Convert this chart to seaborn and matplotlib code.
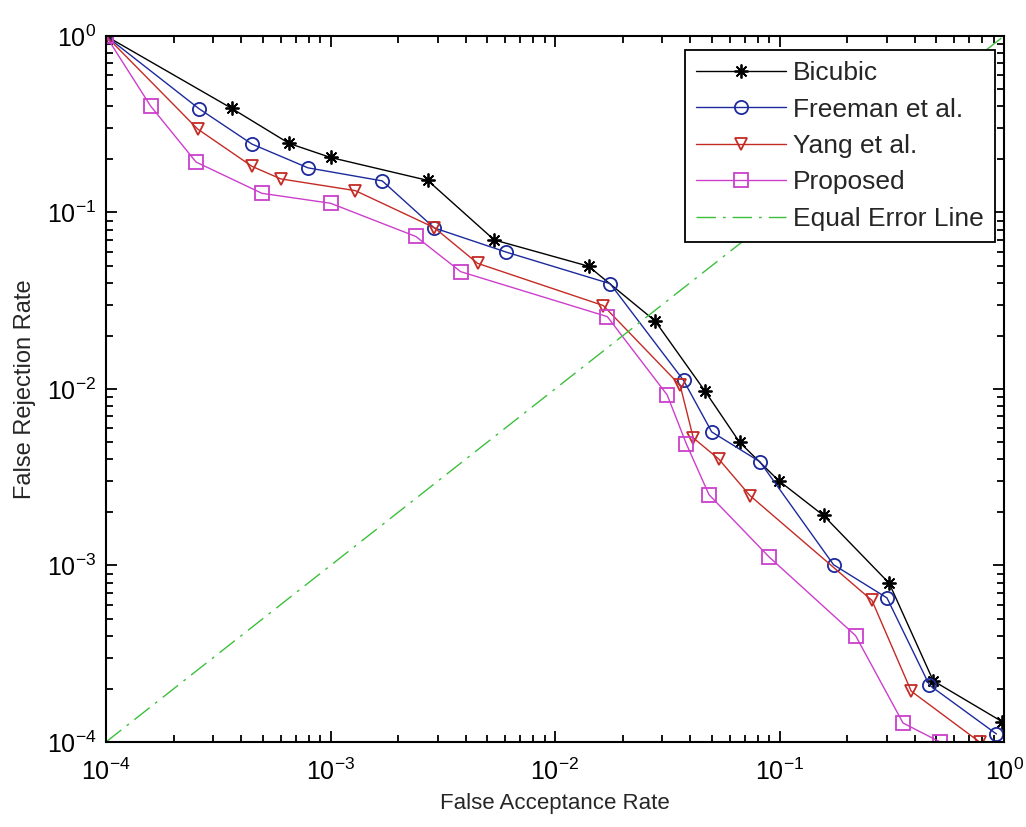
import matplotlib
matplotlib.use("Agg")
import matplotlib.pyplot as plt
import seaborn as sns
import numpy as np
import pandas as pd
from matplotlib.ticker import LogLocator, NullFormatter, LogFormatterSciNotation

# ---------------- data ----------------
labels = ["Bicubic", "Freeman et al.", "Yang et al.", "Proposed"]

far_bicubic = [1e-4, 3.63e-4, 6.55e-4, 1.0e-3, 2.71e-3, 5.36e-3, 1.41e-2, 2.79e-2,
               4.65e-2, 6.64e-2, 9.9e-2, 0.157, 0.308, 0.484, 0.984]
frr_bicubic = [1.0, 0.389, 0.246, 0.205, 0.152, 0.0699, 0.0496, 0.0243,
               0.00975, 0.00499, 0.00303, 0.00192, 7.93e-4, 2.22e-4, 1.30e-4]

far_freeman = [1e-4, 2.59e-4, 4.47e-4, 7.94e-4, 1.70e-3, 2.90e-3, 6.07e-3, 1.76e-2,
               3.74e-2, 4.99e-2, 8.18e-2, 0.174, 0.301, 0.465, 0.925]
frr_freeman = [1.0, 0.388, 0.244, 0.179, 0.151, 0.0817, 0.0596, 0.0395,
               0.01117, 0.00571, 0.00387, 0.00101, 6.55e-4, 2.10e-4, 1.11e-4]

far_yang = [1e-4, 2.56e-4, 4.47e-4, 6.0e-4, 1.29e-3, 2.90e-3, 4.52e-3, 1.64e-2,
            3.61e-2, 4.13e-2, 5.35e-2, 7.38e-2, 0.258, 0.386, 0.778]
frr_yang = [1.0, 0.297, 0.1825, 0.155, 0.133, 0.082, 0.0515, 0.0297,
            0.01047, 0.00528, 0.00402, 0.00249, 6.34e-4, 1.94e-4, 1.0e-4]

far_proposed = [1e-4, 1.58e-4, 2.52e-4, 4.95e-4, 1.0e-3, 2.40e-3, 3.80e-3, 1.71e-2,
                3.16e-2, 3.85e-2, 4.85e-2, 8.97e-2, 0.218, 0.355, 0.519]
frr_proposed = [1.0, 0.401, 0.193, 0.1284, 0.1128, 0.0731, 0.0462, 0.0257,
                0.00925, 0.00487, 0.00252, 0.00112, 4.01e-4, 1.28e-4, 1.0e-4]

eer_x = [1e-4, 1.0]
eer_y = [1e-4, 1.0]
eer_label = "Equal Error Line"

# ---------------- style ----------------
sns.set_style("ticks")
plt.rcParams["font.family"] = ["Liberation Sans", "DejaVu Sans"]
plt.rcParams["mathtext.default"] = "regular"
plt.rcParams["axes.unicode_minus"] = False

fig = plt.figure(figsize=(10.26, 8.27), dpi=100)
ax = fig.add_axes([0.1033, 0.1028, 0.8753, 0.8537])

asterisk = (8, 2, 0)
series = [
    (far_bicubic, frr_bicubic, labels[0], "#000000", asterisk, 10),
    (far_freeman, frr_freeman, labels[1], "#1c2a9c", "o", 9.5),
    (far_yang, frr_yang, labels[2], "#c42b25", "v", 8.5),
    (far_proposed, frr_proposed, labels[3], "#cc3fcc", "s", 10.5),
]

for fx, fy, lab, col, mk, ms in series:
    df = pd.DataFrame({"FAR": fx, "FRR": fy})
    sns.lineplot(data=df, x="FAR", y="FRR", ax=ax, sort=False, estimator=None,
                 color=col, linewidth=1.0, marker=mk, markersize=ms,
                 markerfacecolor="none", markeredgecolor=col,
                 markeredgewidth=1.3, label=lab)

df_eer = pd.DataFrame({"FAR": eer_x, "FRR": eer_y})
sns.lineplot(data=df_eer, x="FAR", y="FRR", ax=ax, sort=False, estimator=None,
             color="#3cc03c", linewidth=1.0, label=eer_label, dashes=False)
ax.lines[-1].set_dashes([14, 5, 2, 5])

ax.set_xscale("log")
ax.set_yscale("log")
ax.set_xlim(1e-4, 1)
ax.set_ylim(1e-4, 1)

for axis in (ax.xaxis, ax.yaxis):
    axis.set_major_locator(LogLocator(base=10, numticks=10))
    axis.set_minor_locator(LogLocator(base=10, subs=np.arange(2, 10), numticks=20))
    axis.set_minor_formatter(NullFormatter())
    axis.set_major_formatter(LogFormatterSciNotation())

ax.tick_params(which="both", direction="in", top=True, right=True,
               width=1.3, labelsize=18, colors="black")
ax.tick_params(which="major", length=8)
ax.tick_params(which="minor", length=5)
ax.tick_params(axis="x", which="major", pad=12)
ax.tick_params(axis="y", which="major", pad=7)
for s in ax.spines.values():
    s.set_visible(True)
    s.set_linewidth(1.5)
    s.set_color("black")

ax.set_xlabel("False Acceptance Rate", fontsize=16, labelpad=6)
ax.set_ylabel("False Rejection Rate", fontsize=17, labelpad=8)
ax.grid(False)

handles, labs = ax.get_legend_handles_labels()
leg = ax.legend(handles, labs, loc="upper right", bbox_to_anchor=(0.990, 0.980),
                fontsize=19, frameon=True, fancybox=False, framealpha=1,
                edgecolor="black", handlelength=3.4, handletextpad=0.27,
                labelspacing=0.47, borderpad=0.42, borderaxespad=0.0,
                markerscale=1.0)
leg.get_frame().set_linewidth(1.3)

fig.savefig("out.png", dpi=100)
